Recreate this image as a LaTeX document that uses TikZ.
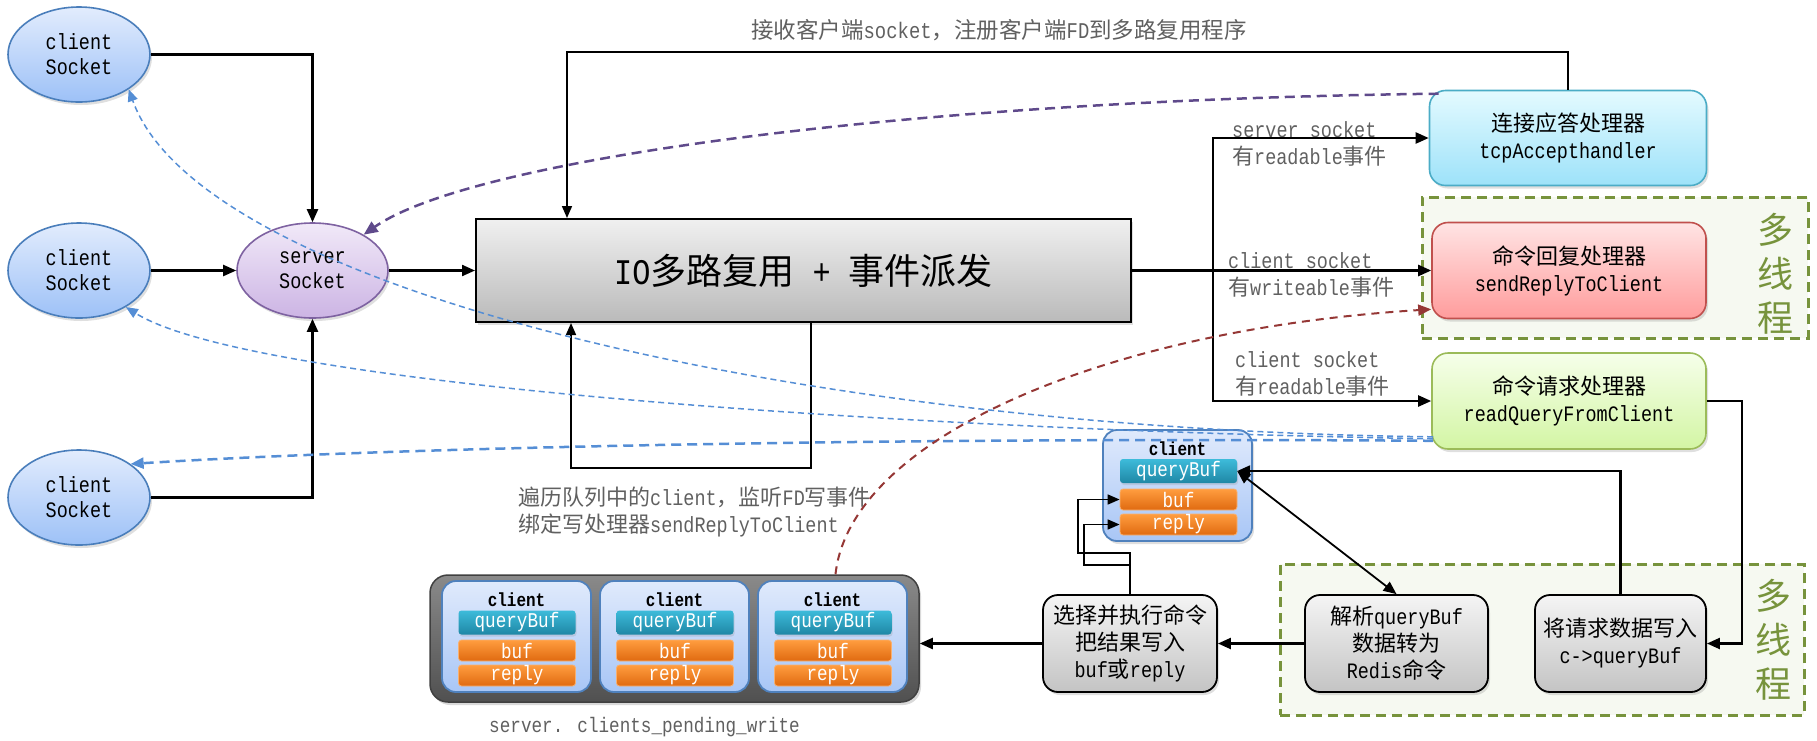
\documentclass[tikz,border=0pt]{standalone}
\usepackage{fontspec}
\setmainfont{Liberation Mono}[FakeStretch=0.84]
\newfontfamily\zh{Noto Sans CJK SC}
\newcommand\Z[1]{{\zh #1}}
\newcommand\fz[2]{\fontsize{#1}{#2}\selectfont}
\usetikzlibrary{shapes.geometric,arrows.meta,shadows,calc}
\definecolor{sockline}{HTML}{4A7EBB}
\definecolor{sockT}{HTML}{E2ECFD}
\definecolor{sockB}{HTML}{9DC1F7}
\definecolor{srvline}{HTML}{7E62A1}
\definecolor{srvT}{HTML}{F1E9F8}
\definecolor{srvB}{HTML}{CCB4E4}
\definecolor{ioT}{HTML}{F0F0F0}
\definecolor{ioB}{HTML}{BABABA}
\definecolor{tcpL}{HTML}{4BACC6}
\definecolor{tcpT}{HTML}{E4FAFF}
\definecolor{tcpB}{HTML}{9DE2F9}
\definecolor{srL}{HTML}{C0504D}
\definecolor{srT}{HTML}{FFE4E4}
\definecolor{srB}{HTML}{FF9C9C}
\definecolor{rqL}{HTML}{9BBB59}
\definecolor{rqT}{HTML}{F6FFEA}
\definecolor{rqB}{HTML}{D3F5A4}
\definecolor{mtL}{HTML}{77933C}
\definecolor{mtF}{HTML}{F6F9F1}
\definecolor{gT}{HTML}{F4F4F4}
\definecolor{gB}{HTML}{C4C4C4}
\definecolor{cbL}{HTML}{4F81BD}
\definecolor{cbT}{HTML}{E0EAFC}
\definecolor{cbB}{HTML}{A8C6F6}
\definecolor{qbT}{HTML}{3DBBDA}
\definecolor{qbB}{HTML}{1F87A5}
\definecolor{orT}{HTML}{FF9D3F}
\definecolor{orB}{HTML}{E06A10}
\definecolor{orL}{HTML}{F8B070}
\definecolor{lgray}{HTML}{606060}
\definecolor{bdash}{HTML}{558ED5}
\definecolor{pdash}{HTML}{5F4A8B}
\definecolor{rdash}{HTML}{953735}
\definecolor{clT}{HTML}{8A8A8A}
\definecolor{clB}{HTML}{505050}
\begin{document}
\begin{tikzpicture}[x=1pt,y=-1pt,
  shad/.style={drop shadow={opacity=0.25,shadow xshift=2pt,shadow yshift=-3pt}},
  sock/.style={ellipse,draw=sockline,line width=1.6pt,top color=sockT,bottom color=sockB,minimum width=142pt,minimum height=95pt,inner sep=0pt,align=center,font=\fz{22}{25},shad},
  srvsock/.style={sock,draw=srvline,top color=srvT,bottom color=srvB,minimum width=151pt},
  iobox/.style={rectangle,draw=black,line width=2pt,top color=ioT,bottom color=ioB,minimum width=655pt,minimum height=103pt,font=\fz{36}{40},shad},
  handler/.style={rectangle,rounded corners=16pt,line width=1.6pt,minimum width=277pt,minimum height=95pt,align=center,font=\fz{22}{27},shad},
  gbox/.style={rectangle,rounded corners=15pt,draw=black,line width=1.8pt,top color=gT,bottom color=gB,align=center,minimum height=97pt,font=\fz{22}{27},inner sep=1pt,shad},
  mtbox/.style={rectangle,draw=mtL,line width=3pt,dash pattern=on 10pt off 6pt,fill=mtF},
  mttext/.style={text=mtL,font={\zh\fz{36}{44}},align=center,inner sep=0pt},
  cbox/.style={rectangle,rounded corners=14pt,draw=cbL,line width=1.8pt,top color=cbT,bottom color=cbB,minimum width=149pt,minimum height=111pt,inner sep=0pt},
  clbl/.style={font=\bfseries\fz{19}{22},inner sep=0pt},
  qbs/.style={rectangle,rounded corners=3pt,minimum width=117pt,minimum height=24pt,inner sep=0pt,top color=qbT,bottom color=qbB,text=white,font=\fz{21}{24},drop shadow={opacity=0.2,shadow xshift=1pt,shadow yshift=-2pt}},
  obs/.style={rectangle,rounded corners=3pt,minimum width=117pt,minimum height=21pt,inner sep=0pt,top color=orT,bottom color=orB,draw=orL,line width=0.8pt,text=white,font=\fz{21}{22}},
  clist/.style={rectangle,rounded corners=18pt,draw=black!75,line width=1.5pt,top color=clT,bottom color=clB,minimum width=489pt,minimum height=127pt},
  lbl/.style={text=lgray,font=\fz{22}{27},align=left,inner sep=0pt,anchor=west},
  arr/.style={line width=2.2pt,-{Triangle[length=13pt,width=11pt]}},
  thin/.style={line width=1.6pt,-{Triangle[length=12pt,width=10pt]}},
  bline/.style={bdash,line width=1.5pt,dash pattern=on 6pt off 4pt,-{Triangle[length=12pt,width=10pt]}},
  bthick/.style={bdash,line width=2.5pt,dash pattern=on 10pt off 6pt,-{Triangle[length=13pt,width=11pt]}},
  pline/.style={pdash,line width=2.5pt,dash pattern=on 10pt off 6pt,-{Triangle[length=14pt,width=12pt]}},
  rline/.style={rdash,line width=2pt,dash pattern=on 8pt off 6pt,-{Triangle[length=13pt,width=11pt]}}
]
\useasboundingbox (0,0) rectangle (1817,740);

% multithread regions
\node[mtbox,minimum width=386pt,minimum height=141pt] (mt1) at (1615,267.5) {};
\node[mtbox,minimum width=524pt,minimum height=151pt] (mt2) at (1542,639.5) {};
\node[mttext] (mt1t) at (1775,274) {多\\线\\程};
\node[mttext] (mt2t) at (1773,640) {多\\线\\程};

% sockets
\node[sock] (c1) at (79,54.5) {client\\Socket};
\node[sock] (c2) at (79,270.5) {client\\Socket};
\node[sock] (c3) at (79,497.5) {client\\Socket};
\node[srvsock] (srv) at (312.5,270.5) {server\\Socket};

% IO multiplexing
\node[iobox] (io) at (803.5,270.5) {IO\Z{多路复用} + \Z{事件派发}};

% handlers
\node[handler,draw=tcpL,top color=tcpT,bottom color=tcpB] (tcp) at (1568,138) {\Z{连接应答处理器}\\tcpAccepthandler};
\node[handler,draw=srL,top color=srT,bottom color=srB,minimum width=274pt,minimum height=96pt] (sr) at (1569,270.5) {\Z{命令回复处理器}\\sendReplyToClient};
\node[handler,draw=rqL,top color=rqT,bottom color=rqB,minimum width=274pt,minimum height=96pt] (rq) at (1569,401) {\Z{命令请求处理器}\\readQueryFromClient};

% labels
\node[lbl,anchor=center] (toplbl) at (999,30) {\fz{22.5}{27}\Z{接收客户端}socket\Z{，注册客户端}FD\Z{到多路复用程序}};
\node[lbl] (l1) at (1232,143.5) {server socket\\\Z{有}readable\Z{事件}};
\node[lbl] (l2) at (1228,275) {client socket\\\Z{有}writeable\Z{事件}};
\node[lbl] (l3) at (1235,373.5) {client socket\\\Z{有}readable\Z{事件}};
\node[lbl] (l4) at (518,511.5) {\Z{遍历队列中的}client\Z{，监听}FD\Z{写事件}\\\Z{绑定写处理器}sendReplyToClient};

% bottom process boxes
\node[gbox,minimum width=174pt] (sel) at (1130,643.5) {\Z{选择并执行命令}\\\Z{把结果写入}\\buf\Z{或}reply};
\node[gbox,minimum width=183pt] (parse) at (1396.5,643.5) {\Z{解析}queryBuf\\\Z{数据转为}\\Redis\Z{命令}};
\node[gbox,minimum width=171pt] (wr) at (1620.5,643.5) {\Z{将请求数据写入}\\c->queryBuf};

% client being processed
\node[cbox,shad] (cq) at (1177.5,485.5) {};
\node[clbl] (cql) at (1177.5,449) {client};
\node[qbs] (qb) at (1178.5,471) {queryBuf};
\node[obs] (buf) at (1178.5,499.5) {buf};
\node[obs] (rep) at (1178.5,524.5) {reply};

% pending clients list
\node[clist,drop shadow={opacity=0.3,shadow xshift=2pt,shadow yshift=-3pt}] (clist) at (674.5,638.5) {};
\newcommand\cbx[2]{%
  \node[cbox] (#1) at (#2,636.5) {};
  \node[clbl] (#1l) at (#2,600) {client};
  \node[qbs] (#1q) at (#2+0.5,622.5) {queryBuf};
  \node[obs] (#1b) at (#2+0.5,650.5) {buf};
  \node[obs] (#1r) at (#2+0.5,675.5) {reply};}
\cbx{pa}{516.5}
\cbx{pb}{674.5}
\cbx{pc}{832.5}
\node[lbl,anchor=center,font=\fz{21}{25}] (pend) at (644.5,727) {server. clients\_pending\_write};

% socket connectors
\draw[arr] (c1.east) -| (srv.north);
\draw[arr] (c2.east) -- (srv.west);
\draw[arr] (c3.east) -| (srv.south);
\draw[arr] (srv.east) -- (io.west);

% dispatch
\coordinate (J) at (1213,270.5);
\draw[arr,line width=2.5pt] (io.east) -- (sr.west);
\draw[arr] (J) |- (tcp.west);
\draw[arr] (J) |- (rq.west);

% accept loop
\coordinate (T1) at (567,52);
\draw[thin] (tcp.north) |- (T1) -- (T1 |- io.north);

% io bottom loop
\coordinate (L1) at (811,468);
\coordinate (L2) at (571,468);
\draw[thin] (L1 |- io.south) -- (L1) -- (L2) -- (L2 |- io.south);

% read path
\draw[arr] (rq.east) -- ++(35,0) |- (wr.east);
\draw[arr] (wr.north) |- (qb.east);
\draw[line width=1.8pt,{Triangle[length=13pt,width=11pt]}-{Triangle[length=13pt,width=11pt]}] (qb.east) -- (parse.north);
\draw[arr] (parse.west) -- (sel.east);
\draw[arr] (sel.west) -- (sel.west -| clist.east);
\coordinate (S1) at (1130,553);
\coordinate (S2) at (1078,553);
\coordinate (S3) at (1130,565);
\coordinate (S4) at (1084,565);
\draw[thin] (sel.north) -- (S1) -- (S2) |- (buf.west);
\draw[thin] (S3) -- (S4) |- (rep.west);

% dashed feedback curves
\draw[bline] ($(rq.south west)+(2,-13)$) .. controls (800,430) and (200,290) .. (c1.-35);
\draw[bline] ($(rq.south west)+(2,-11)$) .. controls (900,430) and (250,385) .. (c2.-38);
\draw[bthick] ($(rq.south west)+(2,-9)$) .. controls (900,437) and (400,447) .. (c3.33);
\draw[pline] ($(tcp.north west)+(10,4)$) .. controls (900,100) and (470,160) .. (srv.35);
\draw[rline] ($(clist.north)+(161,0)$) .. controls (850,440) and (1100,330) .. ($(sr.south west)+(0,-10)$);
\end{tikzpicture}
\end{document}
